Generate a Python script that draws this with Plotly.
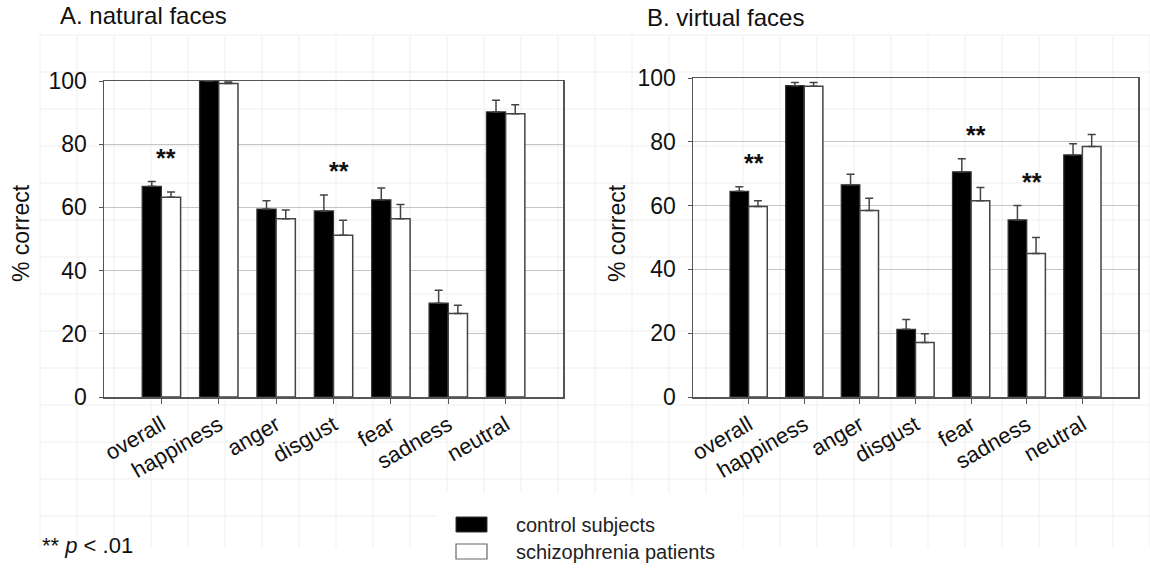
import plotly.graph_objects as go

# ---------------- data ----------------
categories = ["overall", "happiness", "anger", "disgust", "fear", "sadness", "neutral"]

natural_control = [66.7, 100.0, 59.5, 58.9, 62.4, 29.7, 90.2]
natural_control_err = [1.5, 0.0, 2.6, 5.0, 3.7, 4.1, 3.7]
natural_patients = [63.2, 99.2, 56.4, 51.2, 56.4, 26.4, 89.6]
natural_patients_err = [1.7, 0.5, 2.8, 4.7, 4.5, 2.6, 2.9]

virtual_control = [64.5, 97.6, 66.5, 21.2, 70.6, 55.5, 75.9]
virtual_control_err = [1.4, 1.0, 3.3, 3.1, 4.1, 4.5, 3.5]
virtual_patients = [59.7, 97.4, 58.5, 17.1, 61.5, 45.0, 78.5]
virtual_patients_err = [1.8, 1.2, 3.8, 2.7, 4.2, 5.0, 3.8]

natural_significant = ["overall", "disgust"]
virtual_significant = ["overall", "fear", "sadness"]

y_ticks = [0, 20, 40, 60, 80, 100]
series_names = ["control subjects", "schizophrenia patients"]

# ---------------- layout helpers ----------------
W, H = 1150, 568
FONT = "Liberation Sans, Arial, sans-serif"


def px(x):
    return x / W


def py(y):
    return 1 - y / H


fig = go.Figure()


def add_panel(ctrl, ctrl_err, pat, pat_err, xa, ya):
    fig.add_trace(go.Bar(
        x=categories, y=ctrl, name=series_names[0], xaxis=xa, yaxis=ya,
        marker=dict(color="black", line=dict(color="#333333", width=1.2)),
        error_y=dict(type="data", symmetric=False, array=ctrl_err,
                     arrayminus=[0] * len(ctrl), color="#444444",
                     thickness=1.5, width=4),
        showlegend=False, hoverinfo="skip"))
    fig.add_trace(go.Bar(
        x=categories, y=pat, name=series_names[1], xaxis=xa, yaxis=ya,
        marker=dict(color="white", line=dict(color="#444444", width=1.5)),
        error_y=dict(type="data", symmetric=False, array=pat_err,
                     arrayminus=[0] * len(pat), color="#444444",
                     thickness=1.5, width=4),
        showlegend=False, hoverinfo="skip"))


add_panel(natural_control, natural_control_err, natural_patients, natural_patients_err, "x", "y")
add_panel(virtual_control, virtual_control_err, virtual_patients, virtual_patients_err, "x2", "y2")

axis_common_x = dict(
    type="category", categoryorder="array", categoryarray=categories,
    range=[-1, len(categories)], showline=True, mirror=True,
    linecolor="#555555", linewidth=1.5, ticks="outside", ticklen=5,
    tickcolor="#555555", tickwidth=1.2, tickangle=-30,
    tickfont=dict(family=FONT, size=22, color="#111111"),
    showgrid=False, zeroline=False, automargin=False, fixedrange=True)

axis_common_y = dict(
    range=[0, 100], tickvals=y_ticks, showgrid=True, gridcolor="#c4c4c4",
    gridwidth=1, showline=True, mirror=True, linecolor="#555555",
    linewidth=1.5, ticks="outside", ticklen=4, tickcolor="#555555",
    tickfont=dict(family=FONT, size=23, color="#111111"),
    zeroline=False, automargin=False, fixedrange=True)

fig.update_layout(
    width=W, height=H, autosize=False,
    margin=dict(l=0, r=0, t=0, b=0, pad=0),
    paper_bgcolor="white", plot_bgcolor="white",
    barmode="group", bargap=0.33, bargroupgap=0.0,
    font=dict(family=FONT, color="#111111"),
    xaxis=dict(axis_common_x, domain=[px(104), px(563)], anchor="y"),
    yaxis=dict(axis_common_y, domain=[py(397), py(81)], anchor="x",
               ticklabelstandoff=7),
    xaxis2=dict(axis_common_x, domain=[px(693), px(1138)], anchor="y2"),
    yaxis2=dict(axis_common_y, domain=[py(397), py(78)], anchor="x2",
                ticklabelstandoff=7),
    showlegend=False,
)

# ---------------- faint background grid (scan artefact) ----------------
path = []
for k in range(31):
    x = 40 + 37 * k
    path.append(f"M{px(x):.5f},{py(35):.5f} L{px(x):.5f},{py(548):.5f}")
for j in range(14):
    y = 35 + 37 * j
    path.append(f"M{px(40):.5f},{py(y):.5f} L{px(1150):.5f},{py(y):.5f}")
shapes = [dict(type="path", path=" ".join(path), xref="paper", yref="paper",
               line=dict(color="#efefef", width=1), layer="below")]

# white area behind legend
shapes.append(dict(type="rect", xref="paper", yref="paper",
                   x0=px(437), x1=px(743), y0=py(568), y1=py(493),
                   fillcolor="white", line=dict(width=0), layer="below"))
# legend boxes
shapes.append(dict(type="rect", xref="paper", yref="paper",
                   x0=px(456), x1=px(487), y0=py(532), y1=py(517),
                   fillcolor="black", line=dict(color="#333333", width=1)))
shapes.append(dict(type="rect", xref="paper", yref="paper",
                   x0=px(456), x1=px(487), y0=py(559), y1=py(544),
                   fillcolor="white", line=dict(color="#666666", width=1.2)))

annotations = []
# panel titles
annotations.append(dict(text="A. natural faces", x=px(58), y=py(16), xref="paper", yref="paper",
                        xanchor="left", yanchor="middle", showarrow=False,
                        font=dict(family=FONT, size=24, color="#111111")))
annotations.append(dict(text="B. virtual faces", x=px(645), y=py(17), xref="paper", yref="paper",
                        xanchor="left", yanchor="middle", showarrow=False,
                        font=dict(family=FONT, size=24, color="#111111")))
# y axis titles
for xc in (21, 617):
    annotations.append(dict(text="% correct", x=px(xc), y=py(233), xref="paper", yref="paper",
                            xanchor="center", yanchor="middle", textangle=-90, showarrow=False,
                            font=dict(family=FONT, size=23, color="#111111")))


# significance stars from the data
def add_stars(sig, ctrl, ctrl_err, pat, pat_err, xa, ya):
    for cat in sig:
        i = categories.index(cat)
        top = max(ctrl[i] + ctrl_err[i], pat[i] + pat_err[i])
        annotations.append(dict(text="<b>**</b>", x=cat, y=top + 7.5, xref=xa, yref=ya,
                                xanchor="center", yanchor="middle", xshift=5,
                                showarrow=False,
                                font=dict(family=FONT, size=25, color="#111111")))


add_stars(natural_significant, natural_control, natural_control_err,
          natural_patients, natural_patients_err, "x", "y")
add_stars(virtual_significant, virtual_control, virtual_control_err,
          virtual_patients, virtual_patients_err, "x2", "y2")

# legend texts
annotations.append(dict(text=series_names[0], x=px(514), y=py(525), xref="paper", yref="paper",
                        xanchor="left", yanchor="middle", showarrow=False,
                        font=dict(family=FONT, size=20, color="#222222")))
annotations.append(dict(text=series_names[1], x=px(514), y=py(552), xref="paper", yref="paper",
                        xanchor="left", yanchor="middle", showarrow=False,
                        font=dict(family=FONT, size=20, color="#222222")))
# footnote
annotations.append(dict(text="** <i>p</i> < .01", x=px(40), y=py(545), xref="paper", yref="paper",
                        xanchor="left", yanchor="middle", showarrow=False,
                        font=dict(family=FONT, size=22, color="#111111")))

fig.update_layout(shapes=shapes, annotations=annotations)

fig.write_html("out.html",
               config={"displayModeBar": False, "staticPlot": True},
               post_script="document.body.style.margin='0px';document.body.style.padding='0px';document.body.style.overflow='hidden';")
